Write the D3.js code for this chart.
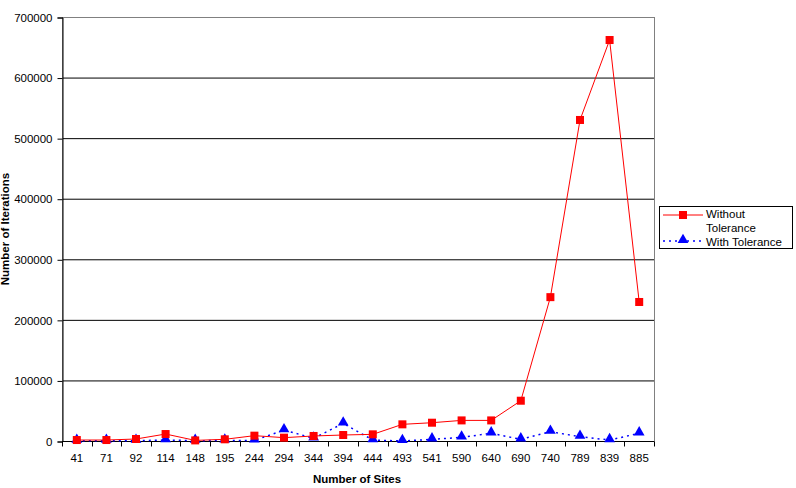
<!DOCTYPE html>
<html>
<head>
<meta charset="utf-8">
<script src="https://cdn.jsdelivr.net/npm/d3@7"></script>
<style>
  body { margin: 0; background: #fff; }
  text { font-family: "Liberation Sans", Arial, sans-serif; }
</style>
</head>
<body>
<svg id="chart" width="796" height="488"></svg>
<script>
// categories on the x axis
let sites = ["41","71","92","114","148","195","244","294","344","394","444","493","541","590","640","690","740","789","839","885"];
// series
let withoutTol = [1600,1600,3300,11500,1000,2800,8800,5500,8300,9900,11000,27500,30200,34000,34000,66500,237500,530000,662000,229500];
let withTol = [500,500,500,1600,500,800,1000,18000,4400,29000,1600,0,2800,6000,12700,2800,15400,7100,1600,12700];
let yTicks = [0,100000,200000,300000,400000,500000,600000,700000];

let svg = d3.select("#chart");
let plotL = 62, plotR = 654, plotT = 17, plotB = 441;
let fs = 11.5;

let x = d3.scaleBand().domain(sites).range([plotL, plotR]);
let y = d3.scaleLinear().domain([0, 700000]).range([plotB, plotT]);

// gridlines
svg.append("g")
    .selectAll("line")
    .data(yTicks.slice(1, -1))
    .enter()
    .append("line")
    .attr("x1", plotL).attr("x2", plotR)
    .attr("y1", d => y(d) + 0.5).attr("y2", d => y(d) + 0.5)
    .attr("stroke", "#000").attr("stroke-width", 1);

// plot border
svg.append("rect")
    .attr("x", plotL + 0.5).attr("y", plotT + 0.5)
    .attr("width", plotR - plotL).attr("height", plotB - plotT)
    .attr("fill", "none").attr("stroke", "#808080").attr("stroke-width", 1);

// y axis
let yAxis = svg.append("g")
    .attr("transform", "translate(" + (plotL + 0.5) + ",0.5)")
    .call(d3.axisLeft(y).tickValues(yTicks).tickSize(5).tickPadding(5).tickFormat(d3.format("d")));
yAxis.select(".domain").attr("stroke", "#000");
yAxis.selectAll("line").attr("stroke", "#000");
yAxis.selectAll("text").attr("font-size", fs).attr("fill", "#000");

// x axis, ticks between the categories
let xAxis = svg.append("g")
    .attr("transform", "translate(0," + (plotB + 0.5) + ")");
xAxis.append("line")
    .attr("x1", plotL).attr("x2", plotR)
    .attr("stroke", "#000");
let edges = sites.map(d => x(d)).concat([plotR]);
xAxis.selectAll(".tk")
    .data(edges)
    .enter()
    .append("line")
    .attr("x1", d => Math.round(d) + 0.5).attr("x2", d => Math.round(d) + 0.5)
    .attr("y1", 0).attr("y2", 5)
    .attr("stroke", "#000");
xAxis.selectAll(".lbl")
    .data(sites)
    .enter()
    .append("text")
    .attr("x", d => x(d) + x.bandwidth() / 2)
    .attr("y", 20)
    .attr("text-anchor", "middle")
    .attr("font-size", fs)
    .text(d => d);

// axis titles
svg.append("text")
    .attr("x", (plotL + plotR) / 2 - 1).attr("y", 483)
    .attr("text-anchor", "middle")
    .attr("font-size", fs).attr("font-weight", "bold")
    .text("Number of Sites");
svg.append("text")
    .attr("transform", "translate(9," + ((plotT + plotB) / 2) + ") rotate(-90)")
    .attr("text-anchor", "middle")
    .attr("font-size", fs).attr("font-weight", "bold")
    .text("Number of Iterations");

let cx = d => x(d) + x.bandwidth() / 2;
let tri = d3.symbol().type(d3.symbolTriangle).size(50);

// with tolerance: blue dotted + triangles
svg.append("path")
    .datum(withTol)
    .attr("d", d3.line().x((d, i) => cx(sites[i])).y(d => y(d)))
    .attr("fill", "none").attr("stroke", "#0000ff")
    .attr("stroke-width", 1.5).attr("stroke-dasharray", "2,4");
svg.append("g")
    .selectAll("path")
    .data(withTol)
    .enter()
    .append("path")
    .attr("d", tri)
    .attr("transform", (d, i) => "translate(" + cx(sites[i]) + "," + (y(d) - 1) + ")")
    .attr("fill", "#0000ff");

// without tolerance: red line + squares
svg.append("path")
    .datum(withoutTol)
    .attr("d", d3.line().x((d, i) => cx(sites[i])).y(d => y(d)))
    .attr("fill", "none").attr("stroke", "#ff0000").attr("stroke-width", 1);
svg.append("g")
    .selectAll("rect")
    .data(withoutTol)
    .enter()
    .append("rect")
    .attr("x", (d, i) => cx(sites[i]) - 4)
    .attr("y", d => y(d) - 4)
    .attr("width", 8).attr("height", 8)
    .attr("fill", "#ff0000");

// legend
let lg = svg.append("g");
lg.append("rect")
    .attr("x", 659.5).attr("y", 206.5).attr("width", 133).attr("height", 42)
    .attr("fill", "#fff").attr("stroke", "#000");
lg.append("line")
    .attr("x1", 663).attr("x2", 703).attr("y1", 215).attr("y2", 215)
    .attr("stroke", "#ff0000");
lg.append("rect")
    .attr("x", 679).attr("y", 211).attr("width", 8).attr("height", 8)
    .attr("fill", "#ff0000");
lg.append("text").attr("x", 706).attr("y", 218).attr("font-size", 11.5).text("Without");
lg.append("text").attr("x", 706).attr("y", 231.5).attr("font-size", 11.5).text("Tolerance");
lg.append("line")
    .attr("x1", 663).attr("x2", 703).attr("y1", 241).attr("y2", 241)
    .attr("stroke", "#0000ff").attr("stroke-width", 1.5).attr("stroke-dasharray", "2,4");
lg.append("path")
    .attr("d", tri)
    .attr("transform", "translate(683,240)")
    .attr("fill", "#0000ff");
lg.append("text").attr("x", 706).attr("y", 245.5).attr("font-size", 11.5).text("With Tolerance");
</script>
</body>
</html>
